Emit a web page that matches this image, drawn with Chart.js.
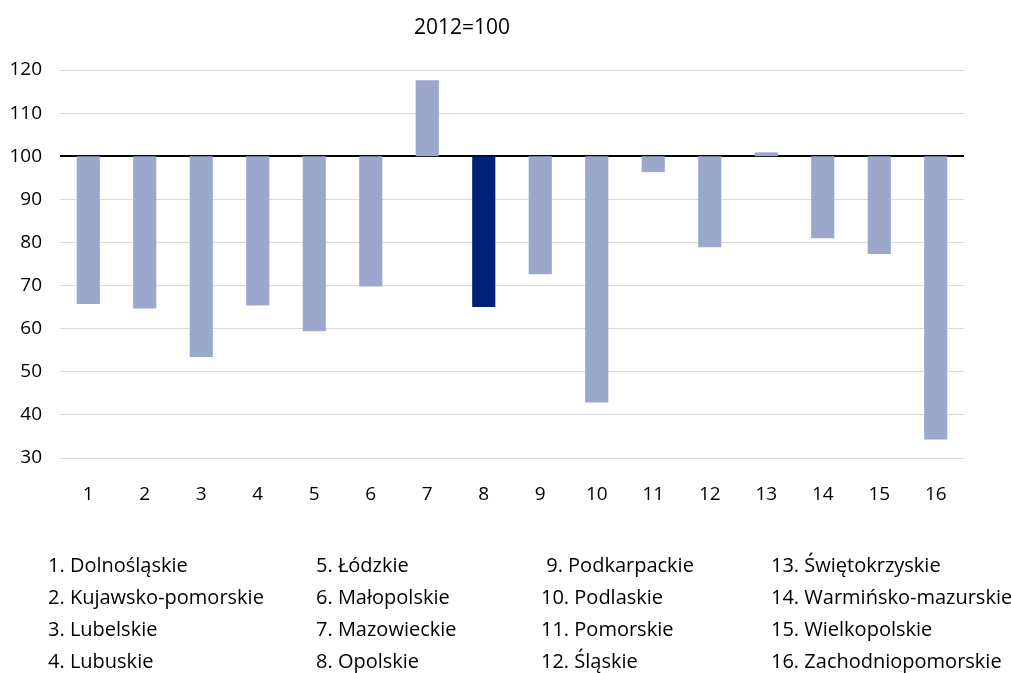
<!DOCTYPE html>
<html>
<head>
<meta charset="utf-8">
<script src="https://cdn.jsdelivr.net/npm/chart.js@4"></script>
<style>
  body { margin: 0; background: #fff; font-family: "Open Sans", sans-serif; color: #000; }
  #wrap { position: relative; width: 1011px; height: 673px; }
  #title { position: absolute; top: 12px; left: 0; width: 924px; text-align: center; font-size: 21px; }
  .leg { position: absolute; font-size: 20px; line-height: 32px; white-space: pre; }
</style>
</head>
<body>
<div id="wrap">
  <canvas id="chart" width="1011" height="673"></canvas>
  <div id="title">2012=100</div>
  <div id="legend"></div>
</div>
<script>
const categories = ["1", "2", "3", "4", "5", "6", "7", "8", "9", "10", "11", "12", "13", "14", "15", "16"];
const values = [65.7, 64.7, 53.4, 65.4, 59.4, 69.8, 117.6, 65.0, 72.6, 42.9, 96.3, 78.9, 100.9, 81.0, 77.3, 34.3];
const regions = [
    "1. Dolnośląskie", "2. Kujawsko-pomorskie", "3. Lubelskie", "4. Lubuskie",
    "5. Łódzkie", "6. Małopolskie", "7. Mazowieckie", "8. Opolskie",
    " 9. Podkarpackie", "10. Podlaskie", "11. Pomorskie", "12. Śląskie",
    "13. Świętokrzyskie", "14. Warmińsko-mazurskie", "15. Wielkopolskie", "16. Zachodniopomorskie"
];
const baseValue = 100;
const highlightIndex = 7;

const legendCols = [48, 316, 541, 771];
const legendBox = document.getElementById("legend");
for (let c = 0; c < 4; c++) {
    const div = document.createElement("div");
    div.className = "leg";
    div.style.left = legendCols[c] + "px";
    div.style.top = "549px";
    div.textContent = regions.slice(c * 4, c * 4 + 4).join("\n");
    legendBox.appendChild(div);
}

const ctx = document.getElementById("chart").getContext("2d");
new Chart(ctx, {
    type: 'bar',
    data: {
        labels: categories,
        datasets: [{
            data: values.map(v => [baseValue, v]),
            backgroundColor: values.map((v, i) => i === highlightIndex ? '#002178' : '#9ba8cb'),
            barPercentage: 0.41,
            categoryPercentage: 1.0,
            borderSkipped: false
        }]
    },
    options: {
        responsive: false,
        animation: false,
        layout: { padding: { top: 70, right: 47, left: 0, bottom: 155 } },
        plugins: { legend: { display: false }, tooltip: { enabled: false } },
        scales: {
            x: {
                grid: { display: false, drawTicks: false },
                border: { display: false },
                ticks: { color: '#000', font: { family: 'Open Sans', size: 19 }, padding: 25 },
                afterFit: scale => { scale.height = 60; }
            },
            y: {
                min: 30,
                max: 120,
                ticks: { stepSize: 10, color: '#000', font: { family: 'Open Sans', size: 19 }, padding: 18 },
                grid: {
                    drawTicks: false,
                    color: c => c.tick && c.tick.value === baseValue ? '#000' : '#d9d9d9',
                    lineWidth: c => c.tick && c.tick.value === baseValue ? 2 : 1
                },
                border: { display: false },
                afterFit: scale => { scale.width = 60; }
            }
        }
    }
});
</script>
</body>
</html>
